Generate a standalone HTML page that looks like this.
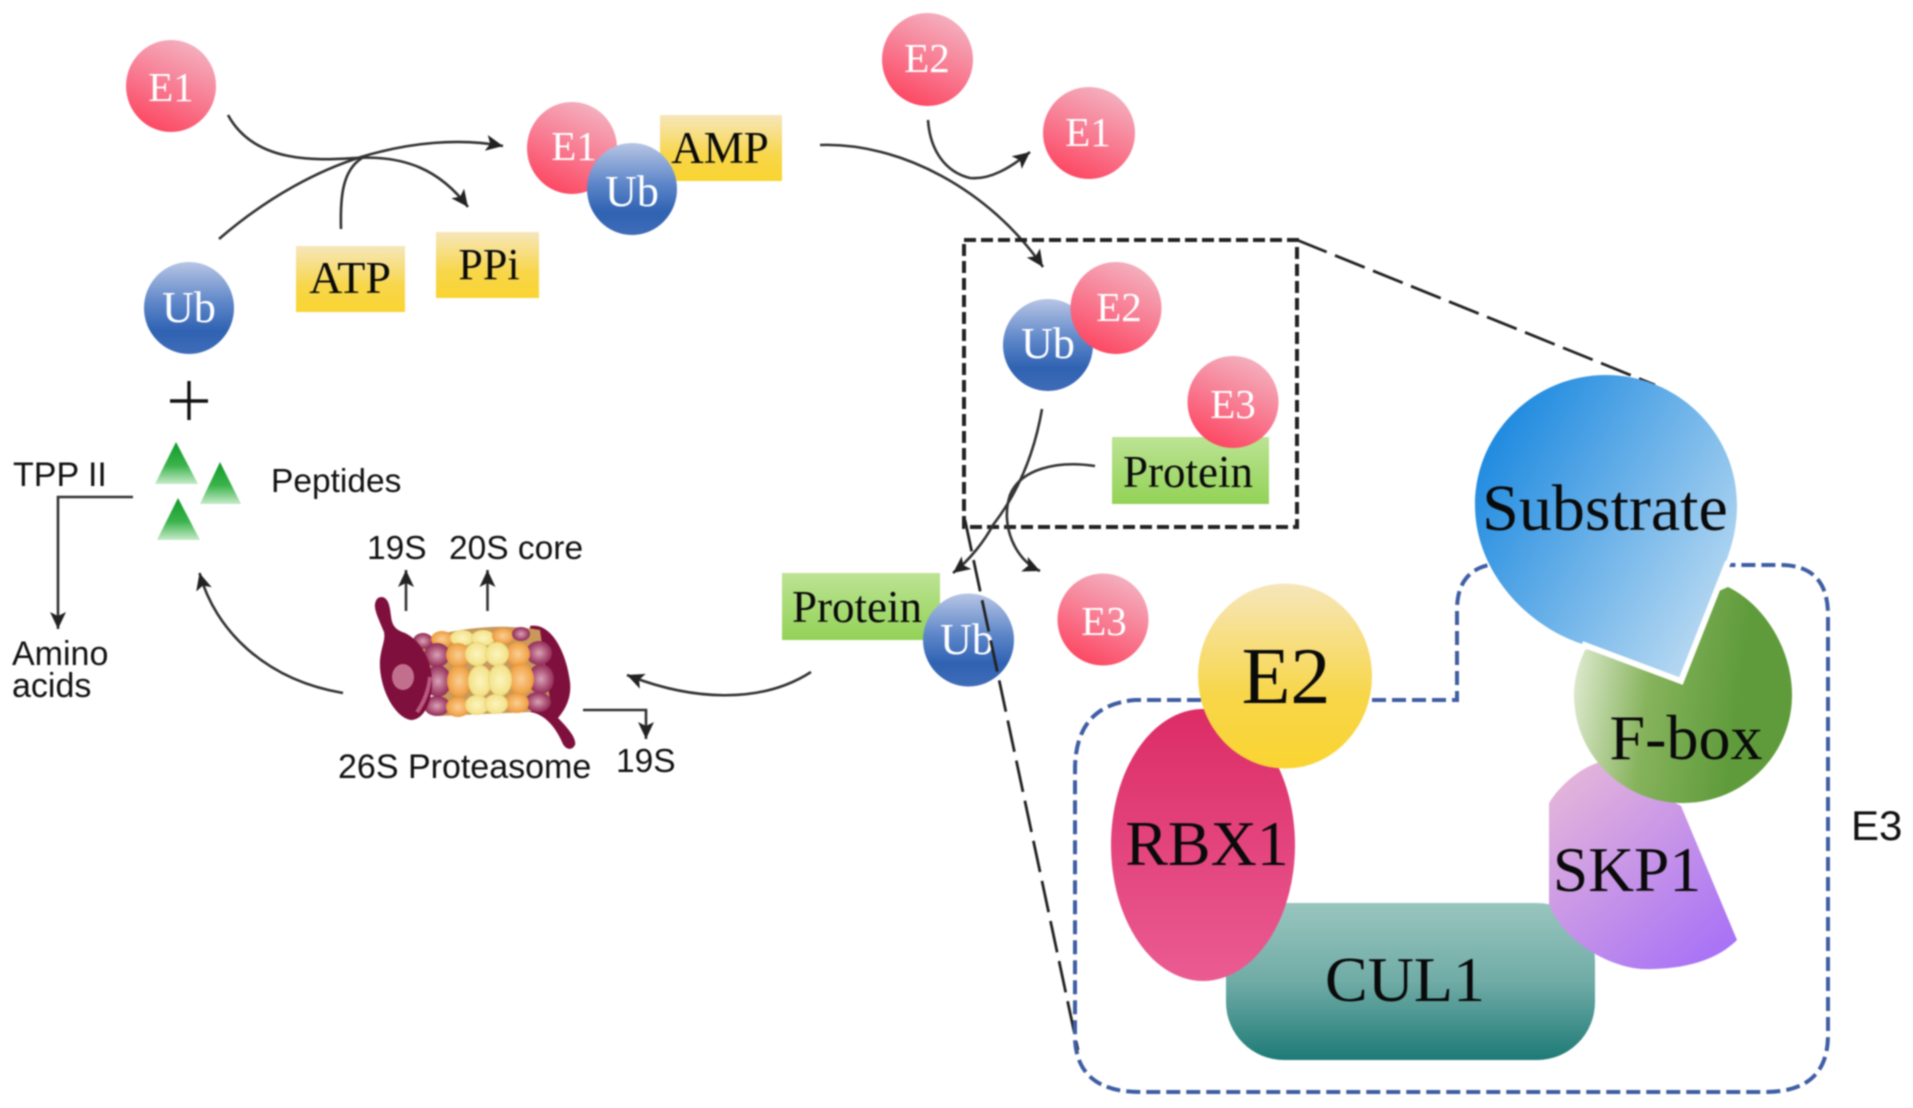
<!DOCTYPE html>
<html><head><meta charset="utf-8">
<style>
html,body{margin:0;padding:0;background:#fff;width:1913px;height:1108px;overflow:hidden}
svg{display:block;filter:blur(.9px)}
.s{font-family:"Liberation Serif",serif}
.a{font-family:"Liberation Sans",sans-serif;font-size:33.500px;fill:#111}
.w{fill:#fff;font-size:41px;text-anchor:middle}
.u{font-size:44px}
.k{fill:#0a0a0a;text-anchor:middle}
.c{fill:none;stroke:#333;stroke-width:2.6}
</style></head><body>
<svg width="1913" height="1108" viewBox="0 0 1913 1108" xmlns="http://www.w3.org/2000/svg">
<defs>
<linearGradient id="r" x1=".75" y1="0" x2=".3" y2="1"><stop offset="0" stop-color="#f3b4c2"/><stop offset=".55" stop-color="#f8788f"/><stop offset="1" stop-color="#fd4560"/></linearGradient>
<linearGradient id="b" x1="0" y1="0" x2="0" y2="1"><stop offset="0" stop-color="#b7c5e4"/><stop offset=".45" stop-color="#5c85c8"/><stop offset=".75" stop-color="#2f62b2"/><stop offset="1" stop-color="#3f6cb8"/></linearGradient>
<linearGradient id="y" x1="0" y1="0" x2="0" y2="1"><stop offset="0" stop-color="#f6e6bb"/><stop offset=".6" stop-color="#f7d64a"/><stop offset="1" stop-color="#f9d431"/></linearGradient>
<linearGradient id="g" x1="0" y1="0" x2="0" y2="1"><stop offset="0" stop-color="#bce393"/><stop offset="1" stop-color="#92d256"/></linearGradient>
<linearGradient id="t" x1="0" y1="0" x2="0" y2="1"><stop offset="0" stop-color="#0f9a2a"/><stop offset=".55" stop-color="#3ab34a"/><stop offset="1" stop-color="#c5eac8"/></linearGradient>
<linearGradient id="sub" x1="0" y1=".15" x2="1" y2=".85"><stop offset="0" stop-color="#1384de"/><stop offset="1" stop-color="#c3dff3"/></linearGradient>
<linearGradient id="fb" x1="0" y1=".45" x2=".75" y2=".55"><stop offset="0" stop-color="#dbe8cb"/><stop offset=".45" stop-color="#86b35c"/><stop offset="1" stop-color="#5f9b3b"/></linearGradient>
<linearGradient id="sk" x1=".1" y1="0" x2=".9" y2="1"><stop offset="0" stop-color="#e6b7d9"/><stop offset="1" stop-color="#a56ff7"/></linearGradient>
<linearGradient id="rb" x1="0" y1="0" x2="0" y2="1"><stop offset="0" stop-color="#dc2c66"/><stop offset="1" stop-color="#ea5b92"/></linearGradient>
<linearGradient id="cu" x1="0" y1="0" x2="0" y2="1"><stop offset="0" stop-color="#98c5be"/><stop offset=".5" stop-color="#70abA6"/><stop offset="1" stop-color="#1d7a76"/></linearGradient>
<radialGradient id="pu" cx=".5" cy=".5" r=".6"><stop offset="0" stop-color="#d9a3b6"/><stop offset=".6" stop-color="#a84a70"/><stop offset="1" stop-color="#7e1c48"/></radialGradient>
<radialGradient id="or" cx=".5" cy=".5" r=".6"><stop offset="0" stop-color="#f9cf95"/><stop offset=".65" stop-color="#f2a850"/><stop offset="1" stop-color="#dc8c30"/></radialGradient>
<radialGradient id="ye" cx=".5" cy=".5" r=".6"><stop offset="0" stop-color="#fcf4be"/><stop offset=".7" stop-color="#f4e48e"/><stop offset="1" stop-color="#d9c05e"/></radialGradient>
<marker id="ah" markerUnits="userSpaceOnUse" markerWidth="20" markerHeight="18" refX="17" refY="8" orient="auto"><path d="M0 0L17 8L0 16L4 8Z" fill="#222"/></marker>
</defs>

<ellipse cx="171" cy="86" rx="45" ry="46" fill="url(#r)"/>
<text x="171" y="101" class="s w">E1</text>
<ellipse cx="572" cy="148" rx="45" ry="46" fill="url(#r)"/>
<text x="574" y="160" class="s w">E1</text>
<rect x="660" y="115" width="122" height="66" fill="url(#y)"/>
<text x="720" y="163" class="s k" font-size="45">AMP</text>
<ellipse cx="632" cy="189" rx="45" ry="46" fill="url(#b)"/>
<text x="632" y="206" class="s w u" style="font-size:44px">Ub</text>
<ellipse cx="189" cy="308" rx="45" ry="46" fill="url(#b)"/>
<text x="189" y="322" class="s w u" style="font-size:44px">Ub</text>
<rect x="296" y="246" width="109" height="66" fill="url(#y)"/>
<text x="350" y="293" class="s k" font-size="46">ATP</text>
<rect x="436" y="232" width="103" height="66" fill="url(#y)"/>
<text x="489" y="279" class="s k" font-size="44">PPi</text>

<path d="M170 401H208M189 381V420" stroke="#111" stroke-width="3.4" fill="none"/>
<polygon points="176,442 155,484 198,484" fill="url(#t)"/>
<polygon points="220,462 200,504 241,504" fill="url(#t)"/>
<polygon points="178,498 157,540 200,540" fill="url(#t)"/>
<text x="13" y="486" class="a" style="font-size:34px">TPP II</text>
<text x="271" y="492" class="a">Peptides</text>
<text x="12" y="665" class="a" style="font-size:34px">Amino</text>
<text x="12" y="697" class="a" style="font-size:34px">acids</text>
<text x="367" y="559" class="a">19S</text>
<text x="449" y="559" class="a">20S core</text>
<text x="338" y="778" class="a" style="font-size:34px">26S Proteasome</text>
<text x="616" y="772" class="a">19S</text>
<text x="1851" y="840" class="a" style="font-size:42px">E3</text>

<path class="c" d="M228 115C255 165 320 160 355 158C405 155 440 170 468 207" marker-end="url(#ah)"/>
<path class="c" d="M219 239C270 195 320 170 361 157C410 142 460 138 503 146" marker-end="url(#ah)"/>
<path class="c" d="M341 229C340 195 343 170 362 158"/>
<path class="c" d="M133 497H58V629" marker-end="url(#ah)"/>
<path class="c" d="M406 611V570" marker-end="url(#ah)"/>
<path class="c" d="M487.500 611V570" marker-end="url(#ah)"/>
<path class="c" d="M343 693C265 680 215 630 199.500 573" marker-end="url(#ah)"/>
<path class="c" d="M811 672C760 705 690 700 627 675" marker-end="url(#ah)"/>
<path class="c" d="M583 710H646V739" marker-end="url(#ah)"/>

<!-- proteasome -->
<g>
<path d="M530 626C550 622 566 650 570 682C572 700 563 712 558 718C566 726 577 738 575 745C572 751 565 750 562 742C556 728 545 714 530 712Z" fill="#7f0f3c"/>
<path d="M420 640C460 626 510 624 540 630L550 700L530 712L440 716Z" fill="#c9985a"/>
<ellipse cx="423" cy="641" rx="10" ry="8" fill="url(#pu)"/>
<ellipse cx="442" cy="639" rx="11" ry="8" fill="url(#or)"/>
<ellipse cx="462" cy="638" rx="12" ry="8" fill="url(#ye)"/>
<ellipse cx="483" cy="638" rx="12" ry="8" fill="url(#ye)"/>
<ellipse cx="503" cy="636" rx="11" ry="8" fill="url(#or)"/>
<ellipse cx="521" cy="634" rx="9" ry="7" fill="url(#pu)"/>
<ellipse cx="437" cy="655" rx="13" ry="12" fill="url(#pu)"/><ellipse cx="438" cy="681" rx="13" ry="16" fill="url(#pu)"/><ellipse cx="437" cy="706" rx="13" ry="10" fill="url(#pu)"/>
<ellipse cx="539" cy="653" rx="13" ry="12" fill="url(#pu)"/><ellipse cx="541" cy="679" rx="13" ry="15" fill="url(#pu)"/><ellipse cx="538" cy="702" rx="13" ry="10" fill="url(#pu)"/>
<ellipse cx="458" cy="655" rx="12" ry="12" fill="url(#or)"/><ellipse cx="459" cy="681" rx="12" ry="16" fill="url(#or)"/><ellipse cx="458" cy="707" rx="12" ry="10" fill="url(#or)"/>
<ellipse cx="518" cy="654" rx="12" ry="12" fill="url(#or)"/><ellipse cx="521" cy="679" rx="13" ry="16" fill="url(#or)"/><ellipse cx="517" cy="703" rx="12" ry="10" fill="url(#or)"/>
<ellipse cx="477" cy="654" rx="12" ry="12" fill="url(#ye)"/><ellipse cx="480" cy="681" rx="12" ry="16" fill="url(#ye)"/><ellipse cx="477" cy="705" rx="12" ry="10" fill="url(#ye)"/>
<ellipse cx="497" cy="654" rx="12" ry="12" fill="url(#ye)"/><ellipse cx="500" cy="680" rx="12" ry="16" fill="url(#ye)"/><ellipse cx="496" cy="704" rx="12" ry="10" fill="url(#ye)"/>
<path d="M382 597C389 598 390 608 391 616C392 626 396 630 405 633C420 640 432 660 432 682C432 704 423 720 411 720C397 718 382 695 380 668C379 650 386 642 384 632C379 620 374 610 375 604C376 599 378 597 382 597Z" fill="#7f0f3c"/>
<ellipse cx="403" cy="677" rx="11" ry="13" fill="#c26f8e"/>
<path d="M417 712Q428 697 430 677" stroke="#b85a80" stroke-width="4" fill="none"/>
</g>

<ellipse cx="927.500" cy="59.500" rx="45.500" ry="46.500" fill="url(#r)"/>
<text x="927" y="72" class="s w">E2</text>
<ellipse cx="1089" cy="133" rx="46" ry="46" fill="url(#r)"/>
<text x="1088" y="146" class="s w">E1</text>
<path class="c" d="M820 145C900 142 990 190 1043 267" marker-end="url(#ah)"/>
<path class="c" d="M928 120C930 150 945 172 970 178C990 180 1010 168 1030 152" marker-end="url(#ah)"/>

<ellipse cx="1048" cy="345" rx="45" ry="46" fill="url(#b)"/>
<text x="1048" y="358" class="s w u" style="font-size:44px">Ub</text>
<ellipse cx="1116" cy="308" rx="45.500" ry="46" fill="url(#r)"/>
<text x="1119" y="321" class="s w">E2</text>
<rect x="1112" y="437" width="157" height="67" fill="url(#g)"/>
<text x="1188" y="487" class="s k" font-size="45">Protein</text>
<ellipse cx="1233" cy="402" rx="45.500" ry="46" fill="url(#r)"/>
<text x="1233" y="418" class="s w">E3</text>
<rect x="964" y="240" width="333" height="287" fill="none" stroke="#222" stroke-width="4" stroke-dasharray="12 5"/>
<path class="c" d="M1042 409C1035 450 1020 490 993 525C985 540 970 560 953 573" marker-end="url(#ah)"/>
<path class="c" d="M1095 466C1055 460 1020 470 1010 495C1000 525 1015 560 1040 571" marker-end="url(#ah)"/>

<rect x="782" y="573" width="158" height="67" fill="url(#g)"/>
<text x="857" y="622" class="s k" font-size="45">Protein</text>
<ellipse cx="968.500" cy="640" rx="45.500" ry="46.500" fill="url(#b)"/>
<text x="967" y="654" class="s w u" style="font-size:44px">Ub</text>
<ellipse cx="1103" cy="619.500" rx="45.500" ry="46" fill="url(#r)"/>
<text x="1104" y="635" class="s w">E3</text>

<path d="M965 520L1078 1050" fill="none" stroke="#222" stroke-width="2.8" stroke-dasharray="32 9"/>
<path d="M1297 240L1655 385" fill="none" stroke="#222" stroke-width="2.8" stroke-dasharray="32 9"/>

<path d="M1201 700H1135Q1075 705 1075 770V1040Q1078 1092 1140 1092H1765Q1828 1092 1828 1035V615Q1828 565 1780 565H1725" fill="none" stroke="#3e5da3" stroke-width="4" stroke-dasharray="14 6"/>
<path d="M1372 700H1457V610Q1457 572 1489 565" fill="none" stroke="#3e5da3" stroke-width="4" stroke-dasharray="14 6"/>

<rect x="1226" y="903" width="369" height="157" rx="58" fill="url(#cu)"/>
<text x="1405" y="1001" class="s k" font-size="64">CUL1</text>
<path d="M1549 803C1560 785 1580 768 1600 762L1681 806L1737 940C1715 962 1680 970 1641 969C1600 965 1560 935 1549 904Z" fill="url(#sk)"/>
<text x="1627" y="891" class="s k" font-size="63.500">SKP1</text>
<ellipse cx="1203" cy="845" rx="92" ry="136" fill="url(#rb)"/>
<text x="1207" y="865" class="s k" font-size="64">RBX1</text>
<ellipse cx="1285" cy="676" rx="87" ry="92.500" fill="url(#y)"/>
<text x="1286" y="703" class="s k" font-size="80">E2</text>
<path d="M1728 587C1765 605 1792 650 1792 695C1792 755 1743 803 1683 803C1623 803 1574 755 1574 695C1574 680 1578 665 1585 650Z" fill="url(#fb)"/>
<text x="1686" y="759" class="s k" font-size="64">F-box</text>
<path d="M1681 681L1582 644C1525 625 1475 570 1475 505C1475 433 1534 375 1606 375C1678 375 1737 433 1737 505C1737 525 1733 542 1728 556Z" fill="url(#sub)"/>
<path d="M1582 644L1681 681L1728 562" fill="none" stroke="#fff" stroke-width="6"/>
<text x="1605" y="530" class="s k" font-size="66">Substrate</text>
</svg>
</body></html>
